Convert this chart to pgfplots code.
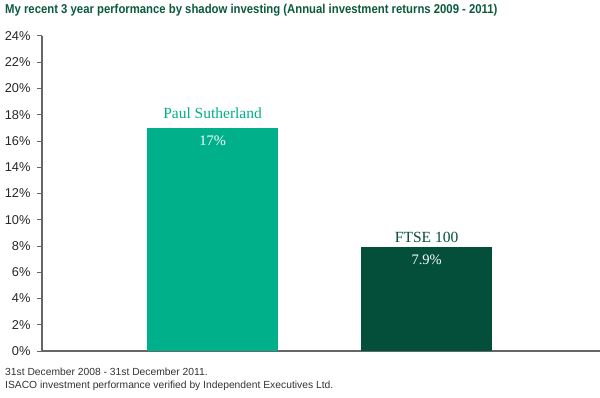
\documentclass[border=0pt]{standalone}
\usepackage{pgfplots}
\pgfplotsset{compat=1.18}
\usepackage{graphicx}
\usepackage{fontspec}
\setmainfont{Liberation Sans}
\newfontfamily\seriffont{Liberation Serif}
\definecolor{lightg}{HTML}{00B08A}
\definecolor{darkg}{HTML}{044F3A}
\definecolor{titleg}{HTML}{0B5A3B}
\definecolor{axisgray}{HTML}{666666}
\begin{document}
\begin{tikzpicture}[x=1pt,y=1pt]
\useasboundingbox (-42,-46) rectangle (558,351);
\begin{axis}[
  at={(0,0)}, anchor=south west,
  scale only axis, width=558pt, height=315pt,
  xmin=-0.797, xmax=1.81, ymin=0, ymax=24,
  axis lines*=left,
  axis line style={axisgray, line width=1.2pt},
  xtick=\empty,
  ytick={0,2,...,24},
  yticklabel={\pgfmathprintnumber{\tick}\%},
  /pgf/number format/assume math mode=true,
  tick align=outside, major tick length=5pt,
  tick style={axisgray, line width=1pt},
  y tick label style={font=\fontsize{12.8}{14}\selectfont, text=black!85, xshift=-3pt},
  clip=false,
]
\addplot[ybar, bar shift=0pt, bar width=131pt, fill=lightg, draw=none] coordinates {(0,17)};
\addplot[ybar, bar shift=0pt, bar width=131pt, fill=darkg, draw=none] coordinates {(1,7.9)};
\node[anchor=base, inner sep=0, yshift=9pt, text=lightg, font=\seriffont\fontsize{15.5}{17}\selectfont] at (axis cs:0,17) {Paul Sutherland};
\node[anchor=base, inner sep=0, yshift=5pt, text=darkg, font=\seriffont\fontsize{15.5}{17}\selectfont] at (axis cs:1,7.9) {FTSE 100};
\node[anchor=base, inner sep=0, yshift=-17.5pt, text=white, font=\seriffont\fontsize{14.5}{17}\selectfont] at (axis cs:0,17) {17\%};
\node[anchor=base, inner sep=0, yshift=-17.5pt, text=white, font=\seriffont\fontsize{14.5}{17}\selectfont] at (axis cs:1,7.9) {7.9\%};
\end{axis}
\node[anchor=base west, inner sep=0, text=titleg, font=\bfseries\fontsize{12.8}{14}\selectfont] at (-37,337) {\scalebox{0.885}[1]{My recent 3 year performance by shadow investing (Annual investment returns 2009 - 2011)}};
\node[anchor=base west, inner sep=0, text=black!80, font=\fontsize{10.3}{12}\selectfont] at (-37,-24) {31st December 2008 - 31st December 2011.};
\node[anchor=base west, inner sep=0, text=black!80, font=\fontsize{10.3}{12}\selectfont] at (-37,-37) {ISACO investment performance verified by Independent Executives Ltd.};
\end{tikzpicture}
\end{document}
